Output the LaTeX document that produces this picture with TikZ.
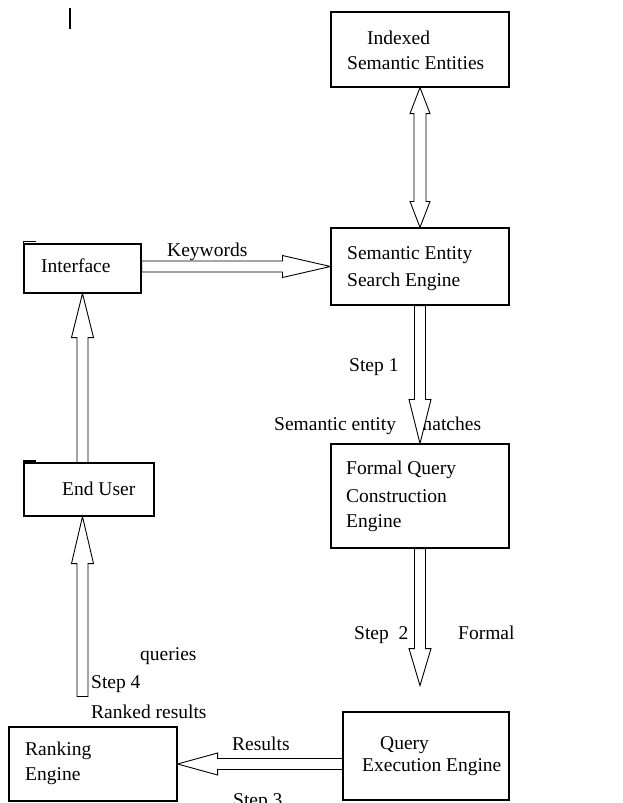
\documentclass[tikz,border=0pt]{standalone}
\usepackage{fontspec}
\setmainfont{Liberation Serif}
\usetikzlibrary{calc,positioning}

\tikzset{
  box/.style={draw, line width=1.1pt, rectangle, inner sep=0pt},
  txt/.style={anchor=base west, inner sep=0pt, font=\fontsize{19.5}{24}\selectfont},
  fat/.style={draw, fill=white, line width=0.9pt, line join=miter},
}

% hollow block arrow: [head length]{from}{to}
\newcommand{\fatarrow}[3][44pt]{%
  \coordinate (fa-h) at ($(#3)!#1!(#2)$);
  \draw[fat] ($(#2)!5.5pt!90:(#3)$) -- ($(fa-h)!5.5pt!90:(#3)$) -- ($(fa-h)!11pt!90:(#3)$)
    -- (#3) -- ($(fa-h)!11pt!-90:(#3)$) -- ($(fa-h)!5.5pt!-90:(#3)$) -- ($(#2)!5.5pt!-90:(#3)$) -- cycle;
}
% hollow block arrow with a head at both ends
\newcommand{\fatboth}[2]{%
  \coordinate (fb-a) at ($(#1)!26pt!(#2)$);
  \coordinate (fb-b) at ($(#2)!26pt!(#1)$);
  \draw[fat] (#1) -- ($(fb-a)!10pt!90:(#2)$) -- ($(fb-a)!6pt!90:(#2)$) -- ($(fb-b)!6pt!90:(#2)$)
    -- ($(fb-b)!10pt!90:(#2)$) -- (#2) -- ($(fb-b)!10pt!-90:(#2)$) -- ($(fb-b)!6pt!-90:(#2)$)
    -- ($(fb-a)!6pt!-90:(#2)$) -- ($(fb-a)!10pt!-90:(#2)$) -- cycle;
}

\begin{document}
\begin{tikzpicture}[x=1pt,y=-1pt]
\useasboundingbox (0,0) rectangle (622,803);

% text cursor
\draw[line width=1.2pt] (70,8) -- (70,29);

% boxes
\node[box, minimum width=178pt, minimum height=75pt]  (idx)    at (420,49.5)  {};
\node[box, minimum width=178pt, minimum height=77pt]  (search) at (420,266.5) {};
\node[box, minimum width=117pt, minimum height=49pt]  (iface)  at (82.5,268.5) {};
\node[box, minimum width=130pt, minimum height=53pt]  (user)   at (89,489.5)  {};
\node[box, minimum width=178pt, minimum height=104pt] (formal) at (420,496)   {};
\node[box, minimum width=166pt, minimum height=88pt]  (query)  at (426,756)   {};
\node[box, minimum width=168pt, minimum height=74pt]  (rank)   at (93,764)    {};
\draw[line width=1.1pt] (iface.north west) -- ++(0,-2) -- ++(13,0);
\draw[line width=1.1pt] (user.north west) -- ++(0,-1.5) -- ++(13,0);

% box texts
\node[txt] (idx-1)    at (367,44)  {Indexed};
\node[txt] (idx-2)    at (347,69)  {Semantic Entities};
\node[txt] (search-1) at (347,259) {Semantic Entity};
\node[txt] (search-2) at (347,286) {Search Engine};
\node[txt] (iface-1)  at (41,272)  {Interface};
\node[txt] (user-1)   at (62,495)  {End User};
\node[txt] (formal-1) at (346,474) {Formal Query};
\node[txt] (formal-2) at (346,502) {Construction};
\node[txt] (formal-3) at (346,527) {Engine};
\node[txt] (query-1)  at (380,749) {Query};
\node[txt] (query-2)  at (362,771) {Execution Engine};
\node[txt] (rank-1)   at (25,755)  {Ranking};
\node[txt] (rank-2)   at (25,780)  {Engine};

% arrow labels
\node[txt] (kw)   at (167,256) {Keywords};
\node[txt] (st1)  at (349,371) {Step 1};
\node[txt] (sem)  at (274,430) {Semantic entity};
\node[txt] (mat)  at (417,430) {matches};
\node[txt] (st2)  at (354,639) {Step~~2};
\node[txt] (frm)  at (458,639) {Formal};
\node[txt] (qry)  at (140,660) {queries};
\node[txt] (st4)  at (91,688)  {Step 4};
\node[txt] (rkd)  at (91,718)  {Ranked results};
\node[txt] (res)  at (232,750) {Results};
\node[txt] (st3)  at (233,806) {Step 3};

% connectors
\coordinate (kw-a)  at (search.west -| iface.east);
\coordinate (eu-a)  at (user.north -| iface.south);
\coordinate (s2-b)  at ($(formal.south)+(0,137)$);
\coordinate (s4-a)  at ($(rank.north)+(-10.5,-30)$);
\coordinate (s4-b)  at (s4-a |- user.south);
\coordinate (res-a) at (rank.east -| query.west);

\fatboth{idx.south}{search.north}
\fatarrow[48pt]{kw-a}{search.west}
\fatarrow{search.south}{formal.north}
\fatarrow{eu-a}{iface.south}
\fatarrow[37pt]{formal.south}{s2-b}
\fatarrow[47pt]{s4-a}{s4-b}
\fatarrow[40pt]{res-a}{rank.east}
\end{tikzpicture}
\end{document}
